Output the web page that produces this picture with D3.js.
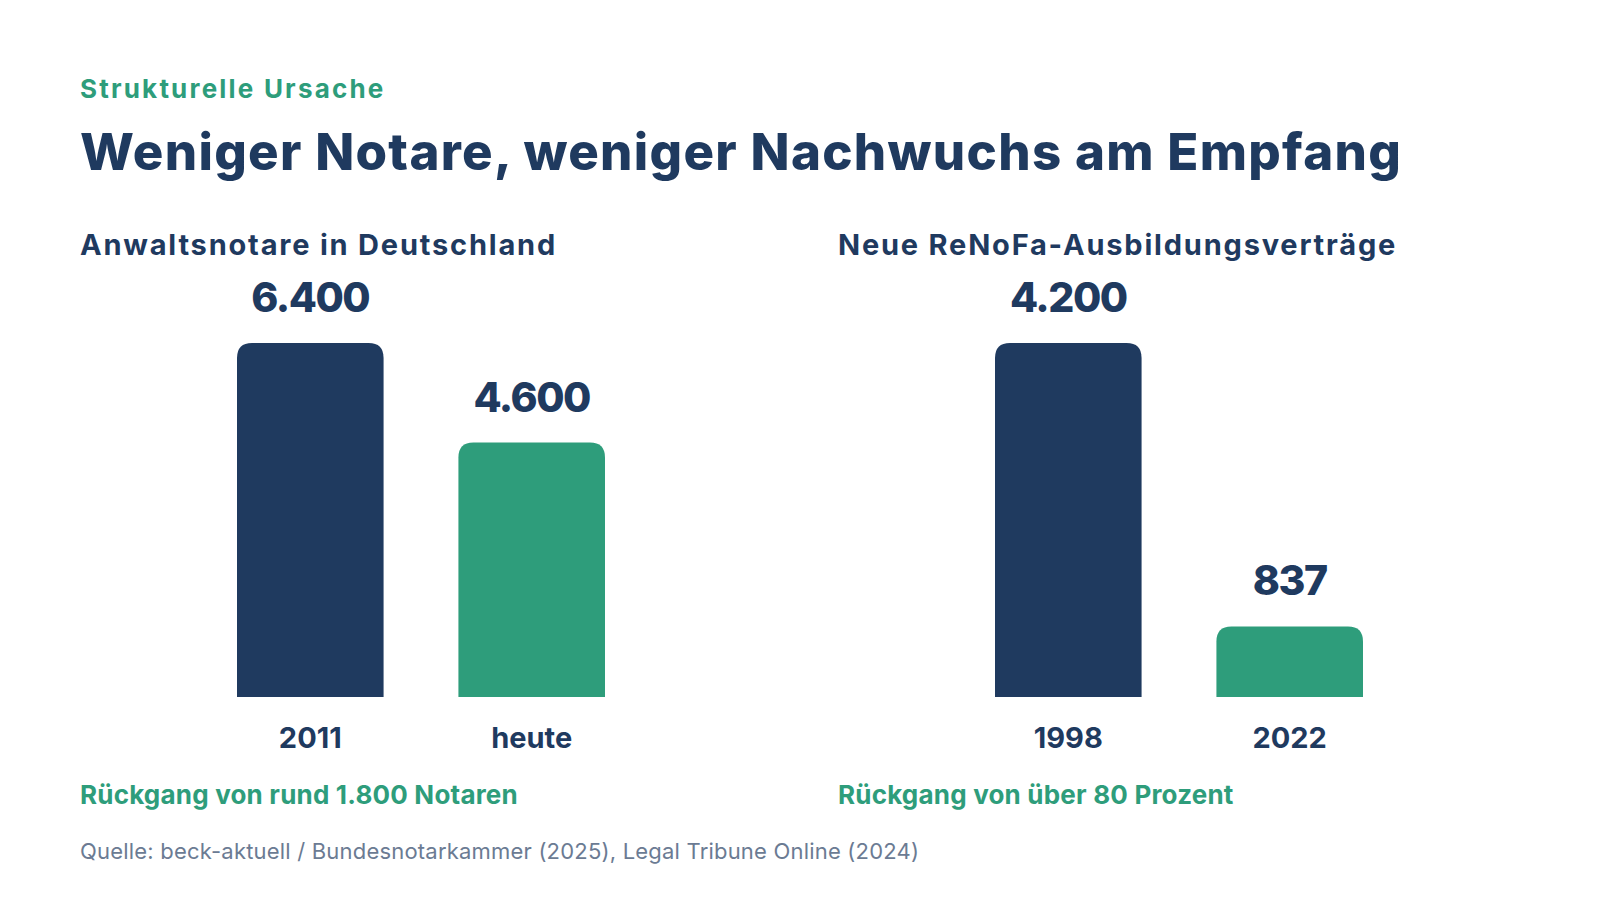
<!DOCTYPE html>
<meta charset="utf-8" />
<script src="https://d3js.org/d3.v7.min.js"></script>
<style>
  body { margin: 0; background: #fff; }
  text { font-family: "Inter", "Noto Sans", sans-serif; }
</style>
<div id="chart"></div>
<script>
  // data
  const notarYears = ["2011", "heute"];
  const notarValues = [6400, 4600];
  const notarLabels = ["6.400", "4.600"];
  const azubiYears = ["1998", "2022"];
  const azubiValues = [4200, 837];
  const azubiLabels = ["4.200", "837"];

  const navy = "#1f3a5f";
  const green = "#2e9d7b";
  const barColors = [navy, green];

  const width = 1600, height = 900;
  const baseY = 697, topY = 343;

  const svg = d3.select("#chart").append("svg")
    .attr("width", width)
    .attr("height", height);

  svg.append("text")
    .attr("x", 80).attr("y", 98)
    .attr("fill", green)
    .style("font-size", "26px").style("font-weight", 700)
    .style("letter-spacing", "2.2px")
    .text("Strukturelle Ursache");

  svg.append("text")
    .attr("x", 80).attr("y", 170)
    .attr("fill", navy)
    .style("font-size", "51px").style("font-weight", 800)
    .style("letter-spacing", "1.3px")
    .text("Weniger Notare, weniger Nachwuchs am Empfang");

  svg.append("text")
    .attr("x", 80).attr("y", 859)
    .attr("fill", "#6b7b93")
    .style("font-size", "22px").style("font-weight", 400)
    .style("letter-spacing", "0.2px")
    .text("Quelle: beck-aktuell / Bundesnotarkammer (2025), Legal Tribune Online (2024)");

  // top-rounded bar path
  function barPath(x, y, w, h, r) {
    r = Math.min(r, h, w / 2);
    return `M${x},${y + h} V${y + r} Q${x},${y} ${x + r},${y} H${x + w - r} Q${x + w},${y} ${x + w},${y + r} V${y + h} Z`;
  }

  function drawPanel(offsetX, title, cats, values, labels, note) {
    const g = svg.append("g").attr("transform", `translate(${offsetX},0)`);

    const x = d3.scaleBand().domain(cats).range([157, 525]).paddingInner(0.338).paddingOuter(0);
    const y = d3.scaleLinear().domain([0, d3.max(values)]).range([baseY, topY]);

    g.append("text")
      .attr("x", 0).attr("y", 255)
      .attr("fill", navy)
      .style("font-size", "29px").style("font-weight", 700)
      .style("letter-spacing", "1.8px")
      .text(title);

    g.selectAll(".bar")
      .data(values)
      .join("path")
      .attr("class", "bar")
      .attr("fill", (d, i) => barColors[i])
      .attr("d", (d, i) => barPath(x(cats[i]), y(d), x.bandwidth(), baseY - y(d), 15));

    g.selectAll(".val")
      .data(values)
      .join("text")
      .attr("class", "val")
      .attr("x", (d, i) => x(cats[i]) + x.bandwidth() / 2)
      .attr("y", (d) => y(d) - 31)
      .attr("text-anchor", "middle")
      .attr("fill", navy)
      .style("font-size", "41px").style("font-weight", 800)
      .style("letter-spacing", "-1.5px")
      .text((d, i) => labels[i]);

    g.selectAll(".cat")
      .data(cats)
      .join("text")
      .attr("class", "cat")
      .attr("x", (d) => x(d) + x.bandwidth() / 2)
      .attr("y", 748)
      .attr("text-anchor", "middle")
      .attr("fill", navy)
      .style("font-size", "29px").style("font-weight", 700)
      .text((d) => d);

    g.append("text")
      .attr("x", 0).attr("y", 804)
      .attr("fill", green)
      .style("font-size", "26px").style("font-weight", 700)
      .style("letter-spacing", "0.2px")
      .text(note);
  }

  drawPanel(80, "Anwaltsnotare in Deutschland", notarYears, notarValues, notarLabels, "Rückgang von rund 1.800 Notaren");
  drawPanel(838, "Neue ReNoFa-Ausbildungsverträge", azubiYears, azubiValues, azubiLabels, "Rückgang von über 80 Prozent");
</script>
